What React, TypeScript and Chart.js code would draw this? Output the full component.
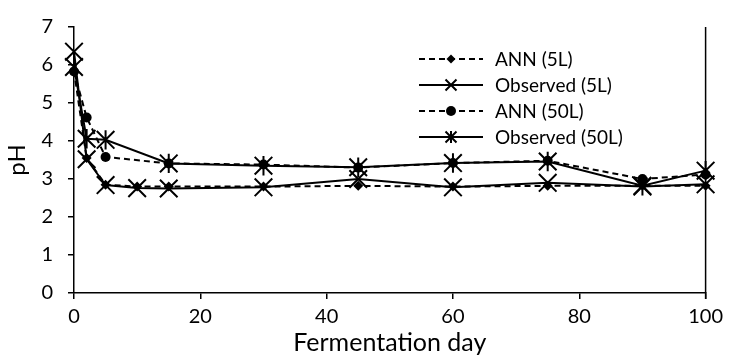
import React, { useEffect, useRef } from "react";
import { Chart, registerables } from "chart.js";

Chart.register(...registerables);

// ---- data ----
const days5 = [0, 2, 5, 10, 15, 30, 45, 60, 75, 90, 100];
const ann5L = [5.85, 3.55, 2.85, 2.8, 2.8, 2.8, 2.82, 2.8, 2.82, 2.82, 2.82];
const obs5L = [6.35, 3.52, 2.84, 2.76, 2.75, 2.78, 3.0, 2.78, 2.9, 2.8, 2.86];
const days50 = [0, 2, 5, 15, 30, 45, 60, 75, 90, 100];
const ann50L = [5.83, 4.62, 3.58, 3.41, 3.38, 3.3, 3.42, 3.48, 3.0, 3.12];
const obs50L = [5.95, 4.06, 4.03, 3.41, 3.35, 3.31, 3.42, 3.46, 2.82, 3.22];
const seriesNames = ["ANN (5L)", "Observed (5L)", "ANN (50L)", "Observed (50L)"];
const xTickValues = [0, 20, 40, 60, 80, 100];
const yTickValues = [0, 1, 2, 3, 4, 5, 6, 7];
const xTitle = "Fermentation day";
const yTitle = "pH";

const FONT = "Lato, 'Open Sans', sans-serif";

type Marker = "diamond" | "x" | "circle" | "asterisk";
const markers: Marker[] = ["diamond", "x", "circle", "asterisk"];
const dashed = [true, false, true, false];
const chartSizes = [5, 8.8, 5, 8.8];
const legendSizes = [4.5, 5.5, 5, 5.5];

function drawMarker(ctx: CanvasRenderingContext2D, m: Marker, x: number, y: number, s: number) {
  ctx.save();
  ctx.fillStyle = "#000";
  ctx.strokeStyle = "#000";
  ctx.lineWidth = 2;
  ctx.setLineDash([]);
  ctx.beginPath();
  if (m === "diamond") {
    ctx.moveTo(x - s, y);
    ctx.lineTo(x, y - s);
    ctx.lineTo(x + s, y);
    ctx.lineTo(x, y + s);
    ctx.closePath();
    ctx.fill();
  } else if (m === "circle") {
    ctx.arc(x, y, s, 0, Math.PI * 2);
    ctx.fill();
  } else if (m === "x") {
    ctx.moveTo(x - s, y - s);
    ctx.lineTo(x + s, y + s);
    ctx.moveTo(x - s, y + s);
    ctx.lineTo(x + s, y - s);
    ctx.stroke();
  } else {
    ctx.moveTo(x - s, y - s);
    ctx.lineTo(x + s, y + s);
    ctx.moveTo(x - s, y + s);
    ctx.lineTo(x + s, y - s);
    ctx.moveTo(x, y - s * 1.1);
    ctx.lineTo(x, y + s * 1.1);
    ctx.stroke();
  }
  ctx.restore();
}

const overlayPlugin = {
  id: "overlay",
  afterDatasetDraw(chart: any, args: any) {
    const i = args.index;
    const meta = args.meta;
    const area = chart.chartArea;
    const ctx: CanvasRenderingContext2D = chart.ctx;
    ctx.save();
    ctx.beginPath();
    ctx.rect(area.left - 12, area.top - 12, area.width + 24, area.height + 24);
    ctx.clip();
    meta.data.forEach((pt: any) => {
      drawMarker(ctx, markers[i], pt.x, pt.y, chartSizes[i]);
    });
    ctx.restore();
  },
  afterDraw(chart: any) {
    const ctx: CanvasRenderingContext2D = chart.ctx;
    const area = chart.chartArea;
    ctx.save();
    // right border line
    ctx.strokeStyle = "#000";
    ctx.lineWidth = 1.5;
    ctx.beginPath();
    ctx.moveTo(area.right, area.top);
    ctx.lineTo(area.right, area.bottom + 6);
    ctx.stroke();

    // legend
    const x1 = area.left + 345;
    const x2 = area.left + 409;
    const xm = (x1 + x2) / 2;
    const tx = area.left + 421;
    const rowY = [59, 85, 111, 137];
    ctx.font = `19px ${FONT}`;
    ctx.fillStyle = "#000";
    ctx.textBaseline = "middle";
    ctx.textAlign = "left";
    seriesNames.forEach((name, i) => {
      const y = rowY[i];
      ctx.save();
      ctx.strokeStyle = "#000";
      ctx.lineWidth = 2;
      ctx.setLineDash(dashed[i] ? [6, 4] : []);
      ctx.beginPath();
      ctx.moveTo(x1, y);
      ctx.lineTo(x2, y);
      ctx.stroke();
      ctx.restore();
      drawMarker(ctx, markers[i], xm, y, legendSizes[i]);
      ctx.fillText(name, tx, y + 1);
    });
    ctx.restore();
  },
};

export default function App() {
  const ref = useRef<HTMLCanvasElement | null>(null);

  useEffect(() => {
    if (!ref.current) return;
    const pts = (xs: number[], ys: number[]) => xs.map((x, i) => ({ x, y: ys[i] }));
    const sets = [pts(days5, ann5L), pts(days5, obs5L), pts(days50, ann50L), pts(days50, obs50L)];
    const datasets = sets.map((data, i) => ({
      label: seriesNames[i],
      data,
      borderColor: "#000",
      backgroundColor: "#000",
      borderWidth: 2,
      borderDash: dashed[i] ? [6, 4] : [],
      pointRadius: 0,
      tension: 0,
      fill: false,
      order: 3 - i,
    }));

    const chart = new Chart(ref.current, {
      type: "line",
      data: { datasets: datasets as any },
      plugins: [overlayPlugin],
      options: {
        responsive: false,
        animation: false,
        events: [],
        layout: { padding: { top: 18, right: 21, left: 0, bottom: 0 } },
        plugins: { legend: { display: false }, tooltip: { enabled: false } },
        scales: {
          x: {
            type: "linear",
            min: 0,
            max: 100,
            afterBuildTicks: (axis: any) => {
              axis.ticks = xTickValues.map((v) => ({ value: v }));
            },
            afterFit: (axis: any) => {
              axis.height = 62;
            },
            ticks: {
              color: "#000",
              font: { family: FONT, size: 20 },
              padding: 6,
              maxRotation: 0,
            },
            grid: { drawOnChartArea: false, color: "#000", lineWidth: 1.5, tickLength: 6 },
            border: { color: "#000", width: 1.5 },
            title: {
              display: true,
              text: xTitle,
              color: "#000",
              font: { family: FONT, size: 25, lineHeight: 1 },
              padding: { top: 0, bottom: 0 },
            },
          },
          y: {
            type: "linear",
            min: 0,
            max: 7,
            afterBuildTicks: (axis: any) => {
              axis.ticks = yTickValues.map((v) => ({ value: v }));
            },
            afterFit: (axis: any) => {
              axis.width = 74;
            },
            ticks: {
              color: "#000",
              font: { family: FONT, size: 20 },
              padding: 15,
            },
            grid: { drawOnChartArea: false, color: "#000", lineWidth: 1.5, tickLength: 6 },
            border: { color: "#000", width: 1.5 },
            title: {
              display: true,
              text: yTitle,
              color: "#000",
              font: { family: FONT, size: 24, lineHeight: 1 },
              padding: { top: 5, bottom: 0 },
            },
          },
        },
      },
    });
    return () => chart.destroy();
  }, []);

  return (
    <div style={{ position: "fixed", left: 0, top: 0, width: 729, height: 355, background: "#fff" }}>
      <canvas ref={ref} width={729} height={355} style={{ width: 729, height: 355, display: "block" }} />
    </div>
  );
}
